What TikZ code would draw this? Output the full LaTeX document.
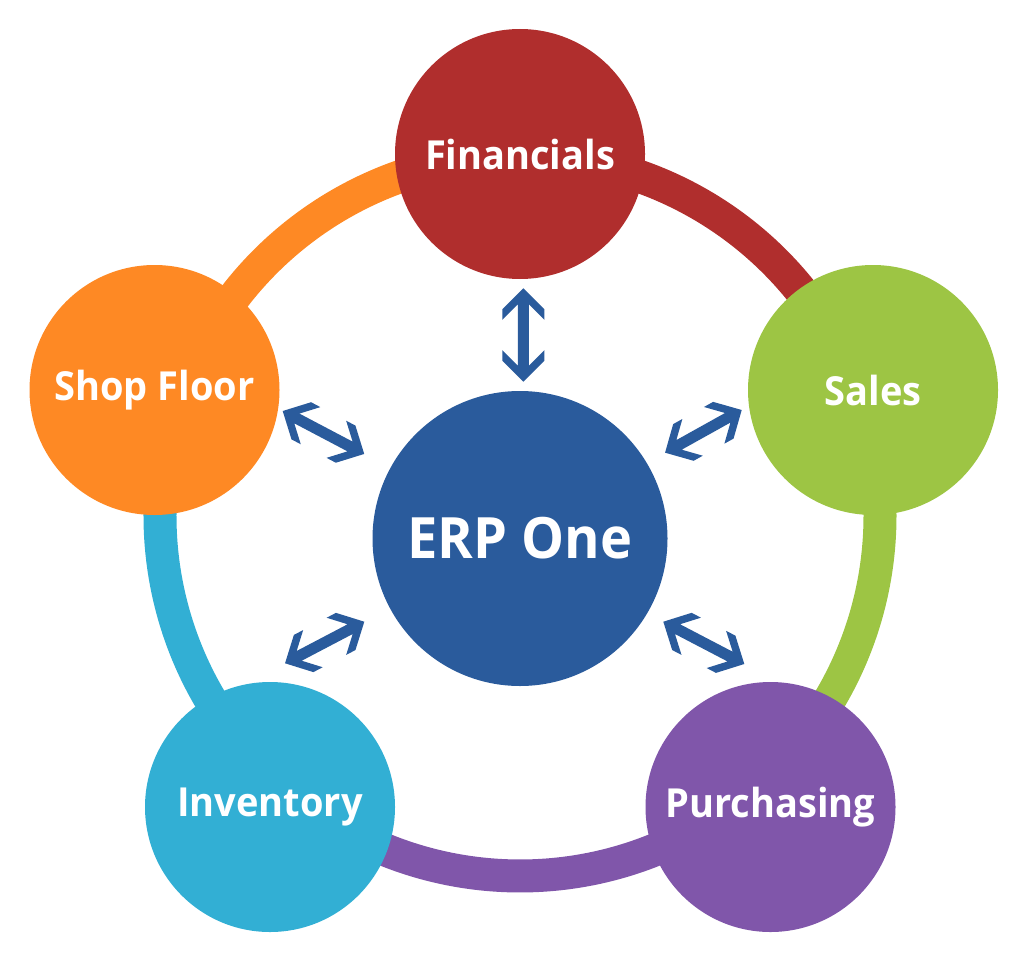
\documentclass[tikz,border=0pt]{standalone}
\usepackage{fontspec}
\setmainfont{Open Sans}[FakeStretch=0.95]
\usetikzlibrary{calc}
\definecolor{cfin}{RGB}{176,46,45}
\definecolor{csal}{RGB}{157,197,68}
\definecolor{cpur}{RGB}{128,86,170}
\definecolor{cinv}{RGB}{50,175,212}
\definecolor{cshop}{RGB}{254,137,36}
\definecolor{cerp}{RGB}{42,91,156}
\definecolor{carr}{RGB}{42,91,156}
\newcommand{\dblarrow}[2]{%
  \path let \p1=(#1), \p2=(#2), \n1={atan2(\y2-\y1,\x2-\x1)}, \n2={veclen(\x2-\x1,\y2-\y1)} in
    \pgfextra{\xdef\arrAng{\n1}\xdef\arrLen{\n2}};
  \fill[arrowfill, shift={(#1)}, rotate=\arrAng]
    (0,0) -- (21,21) -- (31.5,21) -- (16,5.5) -- (\arrLen-16,5.5) -- (\arrLen-31.5,21)
    -- (\arrLen-21,21) -- (\arrLen,0) -- (\arrLen-21,-21) -- (\arrLen-31.5,-21)
    -- (\arrLen-16,-5.5) -- (16,-5.5) -- (31.5,-21) -- (21,-21) -- cycle;
}
\begin{document}
\begin{tikzpicture}[x=1pt,y=-1pt,
  mod/.style={circle, minimum size=250pt, inner sep=0pt, text=white,
    font=\fontsize{40}{48}\selectfont\bfseries},
  hub/.style={circle, minimum size=295pt, inner sep=0pt, text=white, fill=cerp,
    font=\fontsize{57}{66}\selectfont\bfseries},
  band/.style={line width=33pt},
  arrowfill/.style={fill=carr}]
\useasboundingbox (0,0) rectangle (1024,952);
\coordinate (rc) at (520,516);
% ring segments
\draw[band, cfin]  ($(rc)+(-90:360)$)   arc[start angle=-90,   end angle=-19.6, radius=360];
\draw[band, csal]  ($(rc)+(-19.6:360)$) arc[start angle=-19.6, end angle=49.3,  radius=360];
\draw[band, cpur]  ($(rc)+(49.3:360)$)  arc[start angle=49.3,  end angle=130.7, radius=360];
\draw[band, cinv]  ($(rc)+(130.7:360)$) arc[start angle=130.7, end angle=199,   radius=360];
\draw[band, cshop] ($(rc)+(199:360)$)   arc[start angle=199,   end angle=270,   radius=360];
% circles
\node[mod, fill=cfin]  (fin)  at (520,154)   {Financials};
\node[mod, fill=csal]  (sal)  at (873,390)   {Sales};
\node[mod, fill=cpur]  (pur)  at (770.5,807) {Purchasing};
\node[mod, fill=cinv]  (inv)  at (270,807)   {Inventory};
\node[mod, fill=cshop] (shop) at (154.5,390) {Shop Floor};
\node[hub] (erp) at (520,538.5) {ERP One};
% arrow end points
\coordinate (fa) at (523.3,288.3);  \coordinate (fb) at (523.3,381.7);
\coordinate (sa) at (282.7,411);    \coordinate (sb) at (364.3,454);
\coordinate (la) at (741.7,410);    \coordinate (lb) at (665,452.7);
\coordinate (ia) at (364.3,621.7);  \coordinate (ib) at (285,663.3);
\coordinate (pa) at (663.3,621.7);  \coordinate (pb) at (744.3,664);
\dblarrow{fa}{fb}
\dblarrow{sa}{sb}
\dblarrow{la}{lb}
\dblarrow{ia}{ib}
\dblarrow{pa}{pb}
\end{tikzpicture}
\end{document}
